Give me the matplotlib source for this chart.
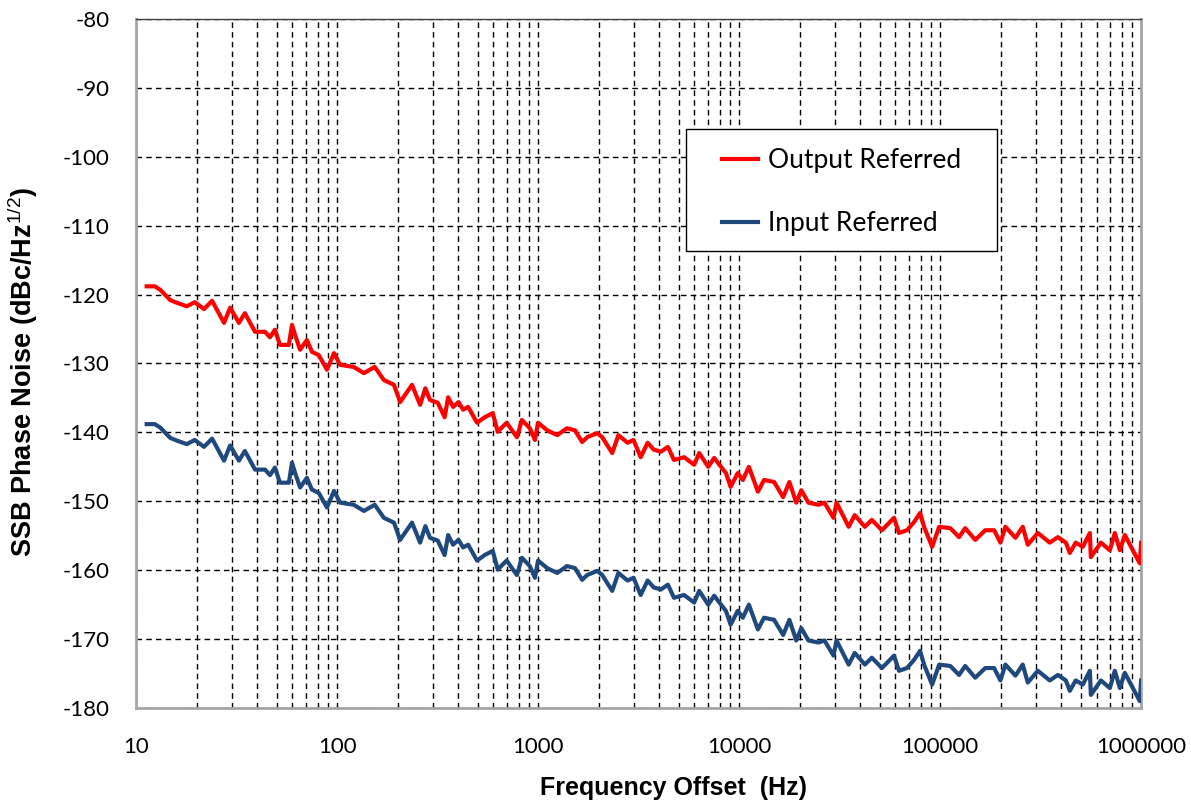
import numpy as np
import matplotlib
matplotlib.use("Agg")
import matplotlib.pyplot as plt
from matplotlib.patches import Rectangle
from matplotlib.ticker import FixedLocator, NullFormatter, LogLocator

# Frequency offset (Hz)
freq = [11.3, 12.4, 13.2, 14.8, 16.0, 17.9, 19.6, 21.8, 23.9, 27.4, 29.4, 32.5, 34.8,
        39.1, 43.8, 46.4, 49.1, 52.0, 57.6, 59.7, 61.9, 65.5, 70.8, 75.0, 81.2, 89.1,
        96.6, 103.6, 121, 136, 154, 171, 192, 206, 236, 259, 275, 290, 317, 343, 357,
        378, 402, 424, 449, 497, 543, 595, 630, 698, 785, 831, 910, 965, 1000, 1111,
        1245, 1393, 1527, 1657, 1755, 1970, 2086, 2339, 2510, 2786, 2985, 3240, 3510,
        3763, 4082, 4427, 4745, 5327, 5979, 6333, 7023, 7525, 7840, 8602, 9076, 9853,
        10440, 11190, 12410, 13310, 14940, 16570, 17790, 19260, 20400, 22130, 24820,
        26600, 29500, 30540, 35100, 37620, 42230, 45770, 51380, 58980, 62430, 68480,
        74260, 79530, 83230, 91300, 98990, 112400, 124300, 133300, 149600, 167800,
        185700, 199600, 211400, 237100, 257700, 273100, 306400, 351300, 385500,
        422300, 442000, 472900, 513000, 556100, 562500, 631000, 699000, 740000,
        784000, 830000, 910000, 985000, 1000000]

# SSB phase noise, output referred (dBc/Hz)
output_ref = [-118.8, -118.8, -119.3, -120.8, -121.2, -121.7, -121.1, -122.1, -120.9,
              -124.1, -121.9, -124.1, -122.7, -125.4, -125.4, -126.2, -125.1, -127.3,
              -127.3, -124.4, -125.9, -128.0, -126.6, -128.3, -128.8, -130.9, -128.5,
              -130.2, -130.5, -131.4, -130.5, -132.4, -133.1, -135.6, -133.1, -136.0,
              -133.6, -135.3, -135.7, -137.8, -134.9, -136.3, -135.6, -136.7, -136.3,
              -138.6, -137.8, -137.2, -139.9, -138.6, -140.7, -138.2, -139.4, -141.1,
              -138.6, -139.7, -140.4, -139.4, -139.7, -141.4, -140.7, -140.1, -140.7,
              -143.0, -140.4, -141.5, -141.1, -143.6, -141.5, -142.5, -142.8, -142.1,
              -144.0, -143.6, -144.7, -143.0, -145.0, -143.7, -144.4, -145.9, -147.9,
              -145.9, -146.9, -145.0, -148.6, -146.9, -147.2, -149.4, -147.2, -150.2,
              -148.4, -150.2, -150.5, -150.2, -152.4, -150.2, -153.7, -152.0, -153.7,
              -152.7, -154.2, -152.4, -154.6, -154.2, -153.0, -151.7, -153.7, -156.6,
              -153.7, -153.9, -155.2, -153.9, -155.6, -154.2, -154.2, -156.0, -153.7,
              -155.3, -153.7, -156.3, -154.6, -156.0, -155.2, -156.0, -157.5, -156.0,
              -156.6, -154.6, -158.1, -156.0, -157.1, -154.6, -157.1, -154.9, -157.1,
              -159.0, -156.0]

# SSB phase noise, input referred (dBc/Hz)
input_ref = [-138.8, -138.8, -139.3, -140.8, -141.2, -141.7, -141.1, -142.1, -140.9,
             -144.1, -141.9, -144.1, -142.7, -145.4, -145.4, -146.2, -145.1, -147.3,
             -147.3, -144.4, -145.9, -148.0, -146.6, -148.3, -148.8, -150.9, -148.5,
             -150.2, -150.5, -151.4, -150.5, -152.4, -153.1, -155.6, -153.1, -156.0,
             -153.6, -155.3, -155.7, -157.8, -154.9, -156.3, -155.6, -156.7, -156.3,
             -158.6, -157.8, -157.2, -159.9, -158.6, -160.7, -158.2, -159.4, -161.1,
             -158.6, -159.7, -160.4, -159.4, -159.7, -161.4, -160.7, -160.1, -160.7,
             -163.0, -160.4, -161.5, -161.1, -163.6, -161.5, -162.5, -162.8, -162.1,
             -164.0, -163.6, -164.7, -163.0, -165.0, -163.7, -164.4, -165.9, -167.9,
             -165.9, -166.9, -165.0, -168.6, -166.9, -167.2, -169.4, -167.2, -170.2,
             -168.4, -170.2, -170.5, -170.2, -172.4, -170.2, -173.7, -172.0, -173.7,
             -172.7, -174.2, -172.4, -174.6, -174.2, -173.0, -171.7, -173.7, -176.6,
             -173.7, -173.9, -175.2, -173.9, -175.6, -174.2, -174.2, -176.0, -173.7,
             -175.3, -173.7, -176.3, -174.6, -176.0, -175.2, -176.0, -177.5, -176.0,
             -176.6, -174.6, -178.1, -176.0, -177.1, -174.6, -177.1, -174.9, -177.1,
             -179.0, -176.0]

xticks = [10, 100, 1000, 10000, 100000, 1000000]
xtick_labels = ["10", "100", "1000", "10000", "100000", "1000000"]
yticks = list(range(-180, -79, 10))

plt.rcParams["mathtext.fontset"] = "custom"
plt.rcParams["mathtext.rm"] = "Liberation Sans"

fig = plt.figure(figsize=(11.91, 8.01), dpi=100)
ax = fig.add_axes([0.1142, 0.1161, 0.8439, 0.8602])

ax.plot(freq, output_ref, color="#ff0000", lw=3, label="Output Referred", zorder=3)
ax.plot(freq, input_ref, color="#1f497d", lw=3, label="Input Referred", zorder=3)

ax.set_xscale("log")
ax.set_xlim(10, 1e6)
ax.set_ylim(-180, -80)

ax.xaxis.set_major_locator(FixedLocator(xticks))
ax.set_xticklabels(xtick_labels)
ax.xaxis.set_minor_locator(LogLocator(base=10, subs=np.arange(2, 10)))
ax.xaxis.set_minor_formatter(NullFormatter())
ax.set_yticks(yticks)
ax.set_yticklabels([str(v) for v in yticks])

for lbl in ax.get_xticklabels() + ax.get_yticklabels():
    lbl.set_fontfamily("Lato")
    lbl.set_fontsize(16)
ax.tick_params(axis="both", which="both", length=0)
ax.tick_params(axis="y", pad=19)
ax.tick_params(axis="x", pad=21)

ax.grid(True, which="major", color="black", linestyle=(0, (4, 3)), lw=1)
ax.grid(True, which="minor", axis="x", color="black", linestyle=(0, (4, 3)), lw=1)
ax.set_axisbelow(True)

for side in ["left", "bottom", "right"]:
    ax.spines[side].set_color("#a6a6a6")
    ax.spines[side].set_linewidth(2)
ax.spines["top"].set_color("#404040")
ax.spines["top"].set_linewidth(1)

# axis titles
fig.text(0.5655, 0.0162, "Frequency Offset  (Hz)", family="Liberation Sans",
         weight="bold", size=18, ha="center", va="center")
fig.text(0.0193, 0.5356, "SSB Phase Noise (dBc/Hz$^{\\mathrm{1/2}}$)",
         family="Liberation Sans", weight="bold", size=19.5, rotation=90,
         ha="center", va="center")

# legend box + entries
ax.add_patch(Rectangle((0.547, 0.663), 0.310, 0.177, transform=ax.transAxes,
                       facecolor="white", edgecolor="black", lw=1, zorder=4))
leg = ax.legend(loc="upper left", bbox_to_anchor=(0.583, 0.813), borderaxespad=0,
                prop={"family": "Lato", "size": 19}, frameon=False,
                handlelength=1.36, handletextpad=0.38, labelspacing=1.44,
                borderpad=0)
leg.set_zorder(5)

fig.savefig("out.png", dpi=100)
